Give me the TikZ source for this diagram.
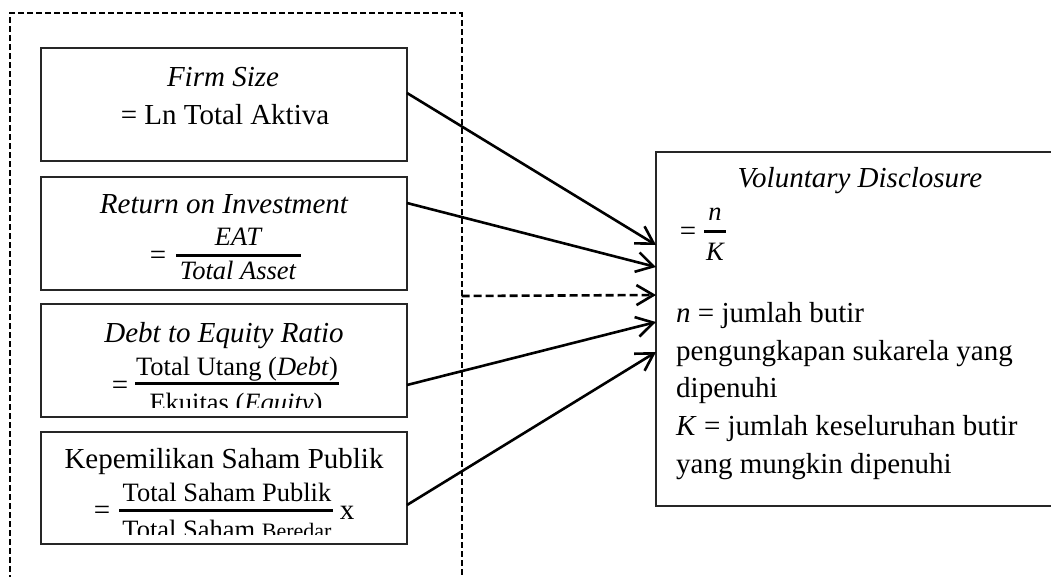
\documentclass[tikz,border=0pt]{standalone}
\usepackage{fontspec}
\setmainfont{Liberation Serif}
\usetikzlibrary{arrows.meta}
\newcommand\bigfs{\fontsize{29}{35}\selectfont}
\newcommand\fracfs{\fontsize{26.5}{30}\selectfont}
\newcommand\smfs{\fontsize{22}{26}\selectfont}
\tikzset{
  box/.style={draw=black!85, line width=1.3pt, inner sep=0pt, outer sep=0pt},
  grpbox/.style={draw=black, line width=2pt, dash pattern=on 6pt off 3pt, inner sep=0pt, outer sep=0pt},
  txt/.style={inner sep=0pt, anchor=base, font=\bigfs},
  ltxt/.style={inner sep=0pt, anchor=base west, font=\bigfs},
  ftxt/.style={inner sep=0pt, anchor=base, font=\fracfs},
  bar/.style={line width=3pt},
  arr/.style={line width=2.6pt, -{Straight Barb[length=17pt,width=20pt,line width=2.6pt]}},
  darr/.style={arr, dash pattern=on 8pt off 4pt},
}
\begin{document}
\begin{tikzpicture}[x=1pt,y=-1pt]
\useasboundingbox (0,0) rectangle (1051,576);
\clip (0,0) rectangle (1051,576);

% outer dashed group
\node[grpbox, minimum width=451.5pt, minimum height=587pt] (grp) at (235.75,306.5) {};

% left boxes
\node[box, minimum width=366pt, minimum height=113pt] (b1) at (224,104.5) {};
\node[box, minimum width=366pt, minimum height=113pt] (b2) at (224,233.5) {};
\node[box, minimum width=366pt, minimum height=113pt] (b3) at (224,360.5) {};
\node[box, minimum width=366pt, minimum height=112pt] (b4) at (224,488) {};

% right box
\node[box, minimum width=404pt, minimum height=354pt] (vd) at (858,329) {};

% box 1 text
\node[txt] (t1a) at (223,86) {\itshape Firm Size};
\node[txt] (t1b) at (225,124) {= Ln Total Aktiva};

% box 2 text
\node[txt] (t2a) at (224,213) {\itshape Return on Investment};
\node[txt] (t2eq) at (158,264) {=};
\node[ftxt] (t2n) at (238,245) {\itshape EAT};
\node[ftxt] (t2d) at (238,279) {\itshape Total Asset};
\draw[bar] (176,255) -- (301,255);

% box 3 text
\node[txt] (t3a) at (224,342) {\itshape Debt to Equity Ratio};
\node[txt] (t3eq) at (120,394) {=};
\node[ftxt] (t3n) at (237,375) {Total Utang (\textit{Debt})};
\draw[bar] (135,383) -- (339,383);
\begin{scope}
  \clip (41,390) rectangle (407,407);
  \node[ftxt] (t3d) at (236,411) {Ekuitas (\textit{Equity})};
\end{scope}

% box 4 text
\node[txt] (t4a) at (224,468) {Kepemilikan Saham Publik};
\node[txt] (t4eq) at (102,519) {=};
\node[ftxt] (t4n) at (227,501) {Total Saham Publik};
\draw[bar] (119,510) -- (333,510);
\begin{scope}
  \clip (41,515) rectangle (407,534);
  \node[ftxt] (t4d) at (227,538) {Total Saham {\smfs Beredar}};
\end{scope}
\node[txt] (t4x) at (347,519) {x};

% right box text
\node[txt] (vda) at (860,187) {\itshape Voluntary Disclosure};
\node[txt] (vdeq) at (688,240) {=};
\node[ftxt] (vdn) at (715,220) {\itshape n};
\node[ftxt] (vdk) at (715,260) {\itshape K};
\draw[bar] (704,231) -- (726,231);
\node[ltxt] (l1) at (676,322) {\textit{n} = jumlah butir};
\node[ltxt] (l2) at (676,360) {pengungkapan sukarela yang};
\node[ltxt] (l3) at (676,397) {dipenuhi};
\node[ltxt] (l4) at (676,435) {\textit{K} = jumlah keseluruhan butir};
\node[ltxt] (l5) at (676,473) {yang mungkin dipenuhi};

% arrows
\draw[arr] ([yshift=11.5pt]b1.east) -- ([yshift=84pt]vd.west);
\draw[arr] ([yshift=30.5pt]b2.east) -- ([yshift=62pt]vd.west);
\draw[darr] ([yshift=10.5pt]grp.east) -- ([yshift=34pt]vd.west);
\draw[arr] ([yshift=-24.5pt]b3.east) -- ([yshift=7pt]vd.west);
\draw[arr] ([yshift=-17pt]b4.east) -- ([yshift=-23pt]vd.west);
\end{tikzpicture}
\end{document}
